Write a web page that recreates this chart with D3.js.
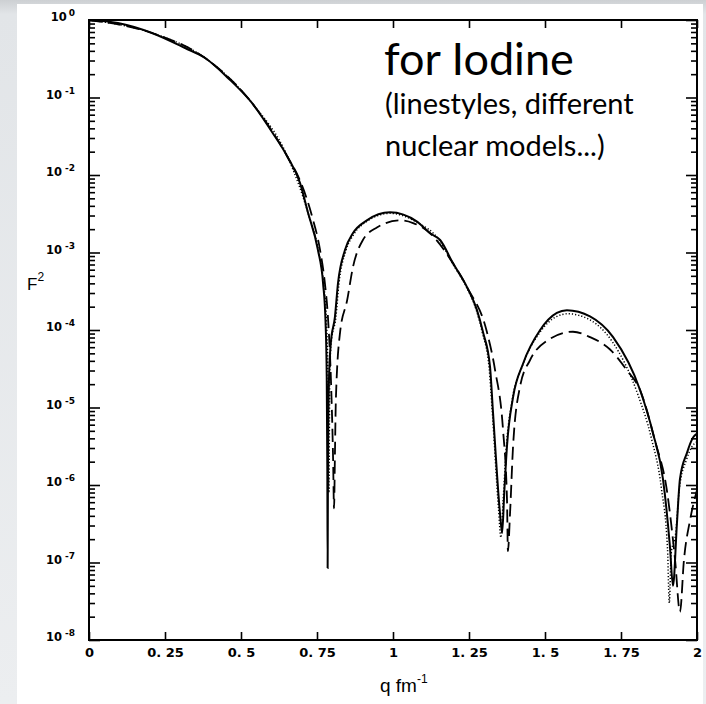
<!DOCTYPE html>
<html>
<head>
<meta charset="utf-8">
<script src="https://cdn.jsdelivr.net/npm/d3@7"></script>
<style>
  body { margin: 0; background: #e6e8eb; }
  svg { display: block; }
</style>
</head>
<body>
<div id="chart"></div>
<script>
// Tick values and labels
const qTicks = [0, 0.25, 0.5, 0.75, 1, 1.25, 1.5, 1.75, 2];
const qLabels = ["0", "0. 25", "0. 5", "0. 75", "1", "1. 25", "1. 5", "1. 75", "2"];
const yExponents = [0, -1, -2, -3, -4, -5, -6, -7, -8];

// Solid curve
const qSolid = [0, 0.095, 0.207, 0.316, 0.382, 0.457, 0.536, 0.602, 0.655, 0.694, 0.720, 0.753, 0.770, 0.778, 0.782, 0.784, 0.785, 0.786, 0.789, 0.795, 0.809, 0.819, 0.842, 0.868, 0.914, 0.990, 1.079, 1.122, 1.155, 1.197, 1.243, 1.276, 1.296, 1.319, 1.329, 1.352, 1.359, 1.366, 1.375, 1.395, 1.428, 1.484, 1.539, 1.572, 1.648, 1.724, 1.813, 1.855, 1.888, 1.911, 1.921, 1.934, 1.944, 1.967, 1.987, 2.0];
const fSolid = [1, 0.914, 0.68, 0.435, 0.323, 0.179, 0.085, 0.0359, 0.0166, 7.9e-3, 3.3e-3, 1.08e-3, 4.0e-4, 1.3e-4, 2.5e-5, 1.5e-6, 8.5e-8, 1.5e-6, 2.0e-5, 6.5e-5, 1.48e-4, 4.0e-4, 1.08e-3, 1.77e-3, 2.6e-3, 3.3e-3, 2.5e-3, 1.77e-3, 1.45e-3, 7.3e-4, 3.6e-4, 1.82e-4, 9.4e-5, 3.4e-5, 8.6e-6, 4.3e-7, 2.4e-7, 8e-7, 3.2e-6, 1.36e-5, 3.7e-5, 1.0e-4, 1.66e-4, 1.8e-4, 1.5e-4, 8.1e-5, 1.67e-5, 4.7e-6, 1.2e-6, 1.6e-7, 5e-8, 3.2e-7, 1.2e-6, 2.6e-6, 4.1e-6, 4.6e-6];

// Dotted curve
const qDot = [0, 0.207, 0.382, 0.536, 0.655, 0.720, 0.755, 0.772, 0.781, 0.786, 0.789, 0.792, 0.797, 0.812, 0.822, 0.845, 0.871, 0.916, 0.990, 1.079, 1.155, 1.197, 1.243, 1.274, 1.294, 1.316, 1.327, 1.347, 1.355, 1.362, 1.372, 1.392, 1.425, 1.482, 1.539, 1.575, 1.648, 1.72, 1.806, 1.85, 1.883, 1.903, 1.909, 1.915, 1.93, 1.942, 1.965, 1.985, 2.0];
const fDot = [1, 0.68, 0.323, 0.085, 0.0166, 3.3e-3, 1.05e-3, 3.9e-4, 1.3e-4, 2.5e-5, 8e-7, 2.5e-5, 7e-5, 1.45e-4, 3.9e-4, 1.05e-3, 1.72e-3, 2.55e-3, 3.2e-3, 2.45e-3, 1.4e-3, 7.1e-4, 3.5e-4, 1.8e-4, 9.2e-5, 3.3e-5, 8.4e-6, 5e-7, 2.1e-7, 6e-7, 2.8e-6, 1.25e-5, 3.4e-5, 9.2e-5, 1.5e-4, 1.62e-4, 1.35e-4, 7.2e-5, 1.45e-5, 4e-6, 9e-7, 1.5e-7, 3e-8, 1.3e-7, 2.4e-7, 9e-7, 2.1e-6, 3.2e-6, 3.6e-6];

// Dashed curve
const qDash = [0, 0.207, 0.382, 0.536, 0.655, 0.694, 0.734, 0.760, 0.776, 0.786, 0.796, 0.803, 0.806, 0.809, 0.812, 0.826, 0.849, 0.868, 0.901, 0.947, 1.023, 1.066, 1.122, 1.197, 1.243, 1.309, 1.336, 1.362, 1.375, 1.378, 1.385, 1.395, 1.418, 1.451, 1.507, 1.592, 1.648, 1.714, 1.770, 1.813, 1.862, 1.901, 1.928, 1.944, 1.957, 1.977, 2.0];
const fDash = [1, 0.68, 0.323, 0.085, 0.0166, 8.5e-3, 2.9e-3, 1.08e-3, 4.0e-4, 1.47e-4, 2.2e-5, 2.1e-6, 5e-7, 2.5e-6, 1.24e-5, 9.4e-5, 2.4e-4, 6.4e-4, 1.45e-3, 2.1e-3, 2.6e-3, 2.4e-3, 1.77e-3, 7.3e-4, 3.6e-4, 9.4e-5, 3.0e-5, 5.1e-6, 6.4e-7, 1.4e-7, 4.3e-7, 3.2e-6, 1.87e-5, 4.1e-5, 7.3e-5, 9.5e-5, 8.1e-5, 5.6e-5, 3.0e-5, 1.67e-5, 3.7e-6, 8.5e-7, 1.07e-7, 2.3e-8, 1.07e-7, 3.5e-7, 8.6e-7];

const width = 706, height = 704;
const margin = { top: 20, right: 9, bottom: 64, left: 89 };

const svg = d3.select("#chart").append("svg")
  .attr("width", width)
  .attr("height", height);

// slide background
const grad = svg.append("defs").append("linearGradient")
  .attr("id", "bg").attr("x1", 0).attr("y1", 0).attr("x2", 0).attr("y2", 1);
grad.append("stop").attr("offset", "0").attr("stop-color", "#cdd0d3");
grad.append("stop").attr("offset", "0.02").attr("stop-color", "#e2e5e8");
grad.append("stop").attr("offset", "1").attr("stop-color", "#eceef0");
svg.append("rect").attr("width", width).attr("height", height).attr("fill", "url(#bg)");
svg.append("rect").attr("x", 17).attr("y", 4).attr("width", 686).attr("height", 700).attr("fill", "#fff");

const x = d3.scaleLinear()
  .domain([0, 2])
  .range([margin.left, width - margin.right]);

const y = d3.scaleLog()
  .domain([1e-8, 1])
  .range([height - margin.bottom, margin.top]);

const majorY = yExponents.map(e => Math.pow(10, e));
const minorY = y.ticks().filter(v => !majorY.some(m => Math.abs(Math.log10(v) - Math.log10(m)) < 1e-6));

// Axes: ticks point inward
const tickFont = "'DejaVu Sans', sans-serif";

const xBottom = svg.append("g")
  .attr("transform", `translate(0,${y.range()[0]})`)
  .call(d3.axisBottom(x).tickValues(qTicks).tickSize(-8).tickPadding(8)
    .tickFormat((d, i) => qLabels[i]));
xBottom.selectAll("text")
  .attr("font-family", tickFont)
  .attr("font-weight", "bold")
  .attr("font-size", 13)
  .attr("fill", "#000");

const xTop = svg.append("g")
  .attr("transform", `translate(0,${y.range()[1]})`)
  .call(d3.axisTop(x).tickValues(qTicks).tickSize(-8).tickFormat(""));

const yLeftMajor = svg.append("g")
  .attr("transform", `translate(${x.range()[0]},0)`)
  .call(d3.axisLeft(y).tickValues(majorY).tickSize(-11).tickFormat(""));
const yLeftMinor = svg.append("g")
  .attr("transform", `translate(${x.range()[0]},0)`)
  .call(d3.axisLeft(y).tickValues(minorY).tickSize(-6).tickFormat(""));
const yRightMajor = svg.append("g")
  .attr("transform", `translate(${x.range()[1]},0)`)
  .call(d3.axisRight(y).tickValues(majorY).tickSize(-11).tickFormat(""));
const yRightMinor = svg.append("g")
  .attr("transform", `translate(${x.range()[1]},0)`)
  .call(d3.axisRight(y).tickValues(minorY).tickSize(-6).tickFormat(""));

svg.selectAll(".domain").remove();
svg.selectAll(".tick line").attr("stroke", "#000").attr("stroke-width", 1.6);

// frame
svg.append("rect")
  .attr("x", x.range()[0])
  .attr("y", y.range()[1])
  .attr("width", x.range()[1] - x.range()[0])
  .attr("height", y.range()[0] - y.range()[1])
  .attr("fill", "none")
  .attr("stroke", "#000")
  .attr("stroke-width", 2);

// y tick labels 10^n
const yLab = svg.append("g")
  .selectAll("text")
  .data(yExponents)
  .join("text")
  .attr("x", x.range()[0] - 14)
  .attr("y", d => y(Math.pow(10, d)) + 1)
  .attr("text-anchor", "end")
  .attr("font-family", tickFont)
  .attr("font-weight", "bold")
  .attr("font-size", 11.5)
  .attr("fill", "#000");
yLab.append("tspan").text("10");
yLab.append("tspan")
  .attr("dx", d => d === 0 ? 2 : 3)
  .attr("dy", -5)
  .attr("font-size", 9)
  .text(d => d === 0 ? "0" : "-" + Math.abs(d));

// axis titles
const yTitle = svg.append("text")
  .attr("x", 27)
  .attr("y", 290)
  .attr("font-family", "'Liberation Sans', Arial, sans-serif")
  .attr("font-size", 17)
  .attr("fill", "#000");
yTitle.append("tspan").text("F");
yTitle.append("tspan").attr("dy", -9).attr("font-size", 12).text("2");

const xTitle = svg.append("text")
  .attr("x", 380)
  .attr("y", 692)
  .attr("font-family", "'Liberation Sans', Arial, sans-serif")
  .attr("font-size", 19)
  .attr("fill", "#000");
xTitle.append("tspan").text("q fm");
xTitle.append("tspan").attr("dy", -9).attr("font-size", 12).text("-1");

// curves
const line = d3.line()
  .x(d => x(d[0]))
  .y(d => y(d[1]))
  .curve(d3.curveMonotoneX);

const series = [
  { q: qDash, f: fDash, dash: "13,6", w: 1.8 },
  { q: qDot, f: fDot, dash: "1.2,2", w: 1.5 },
  { q: qSolid, f: fSolid, dash: null, w: 2 }
];

svg.append("g")
  .selectAll("path")
  .data(series)
  .join("path")
  .attr("fill", "none")
  .attr("stroke", "#000")
  .attr("stroke-width", d => d.w)
  .attr("stroke-dasharray", d => d.dash)
  .attr("d", d => line(d3.zip(d.q, d.f)));

// slide annotation
const note = svg.append("g")
  .attr("font-family", "Lato, 'Open Sans', sans-serif")
  .attr("fill", "#000");
note.append("text").attr("x", 384).attr("y", 75).attr("font-size", 45).text("for Iodine");
note.append("text").attr("x", 385).attr("y", 114).attr("font-size", 29).text("(linestyles, different");
note.append("text").attr("x", 385).attr("y", 156).attr("font-size", 29).text("nuclear models...)");
</script>
</body>
</html>
